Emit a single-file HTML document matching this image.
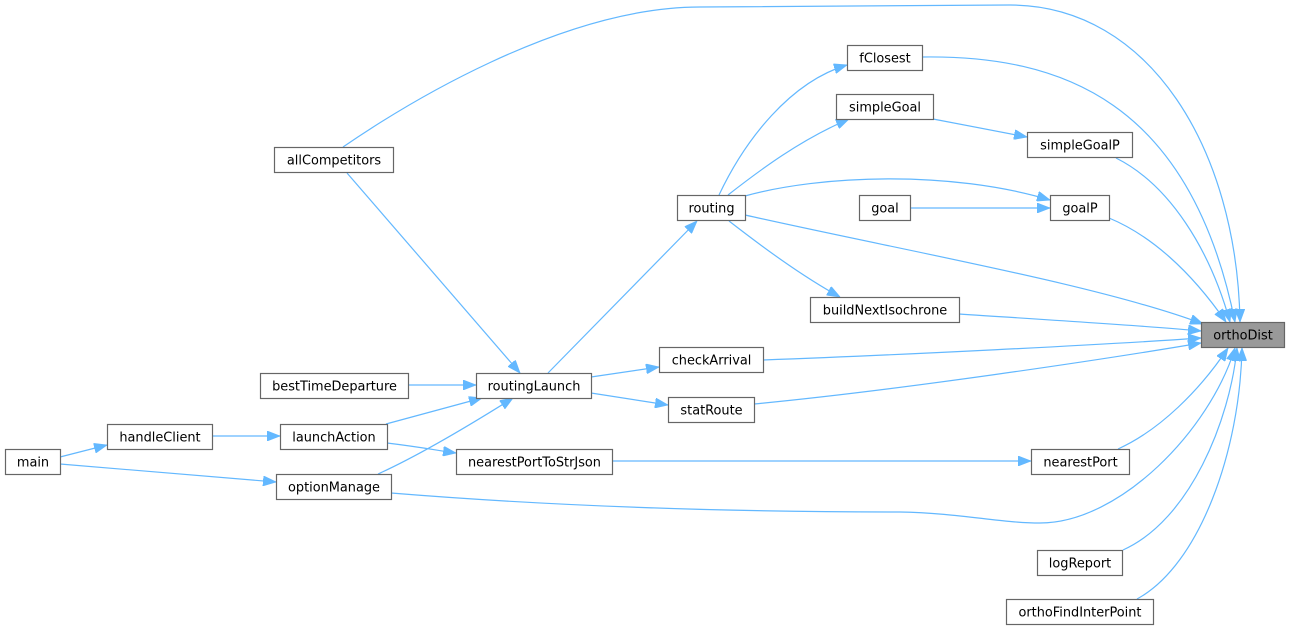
<!DOCTYPE html>
<html><head><meta charset="utf-8"><style>
html,body{margin:0;padding:0;background:#fff;}
svg{display:block;}
text{font-family:"DejaVu Sans","Liberation Sans",sans-serif;font-size:12.9px;fill:#000;text-anchor:middle;}
.n{fill:#fff;stroke:#666;stroke-width:1.2;}
.e{fill:none;stroke:#63b8ff;stroke-width:1.2;}
</style></head><body>
<svg width="1289" height="630" viewBox="0 0 1289 630" xmlns="http://www.w3.org/2000/svg">
<defs>
<marker id="a" viewBox="0 0 13 10" refX="13" refY="5" markerWidth="13" markerHeight="10" markerUnits="userSpaceOnUse" orient="auto">
<path d="M0,0 L13,5 L0,10 z" fill="#63b8ff" stroke="#63b8ff" stroke-width="0.8"/>
</marker>
</defs>
<g marker-end="url(#a)">
<!-- left side -->
<path class="e" d="M60,457 L107,445"/>
<path class="e" d="M60,464 L276,482"/>
<path class="e" d="M212,436 L280,436"/>
<path class="e" d="M386,424 L482,398"/>
<path class="e" d="M387,443 C420,447 435,450 456,453"/>
<path class="e" d="M378,474 C420,455 470,425 513,398"/>
<path class="e" d="M408,385 L476,385"/>
<path class="e" d="M347,173 L520,373"/>
<path class="e" d="M548,373 L697,221"/>
<path class="e" d="M591,377 L659,367"/>
<path class="e" d="M591,393 L668,405"/>
<path class="e" d="M612,461 L1031,461"/>
<!-- routing edges -->
<path class="e" d="M719,195 C745,140 790,82 847,65"/>
<path class="e" d="M728,195 C760,170 800,140 849,119"/>
<path class="e" d="M745,196 C820,175 950,170 1050,200"/>
<path class="e" d="M729,221 C760,245 800,275 840,297"/>
<path class="e" d="M910,208 L1050,208"/>
<path class="e" d="M933,119 L1027,137"/>
<!-- to orthoDist -->
<path class="e" d="M343,147 C400,108 560,7 700,7 C850,7 950,5 1010,5 C1150,5 1237,150 1240,322"/>
<path class="e" d="M922,57 C1060,55 1190,100 1235,322"/>
<path class="e" d="M1116,158 C1170,185 1210,250 1230,322"/>
<path class="e" d="M1109,218 C1150,235 1190,270 1226,322"/>
<path class="e" d="M745,215 C900,250 1100,285 1203,324"/>
<path class="e" d="M959,314 C1050,320 1150,326 1201,331"/>
<path class="e" d="M763,360 C900,355 1100,345 1201,338"/>
<path class="e" d="M754,404 C900,390 1100,360 1201,343"/>
<path class="e" d="M1118,449 C1160,430 1200,390 1228,348"/>
<path class="e" d="M391,493 C600,510 800,512 900,512 C960,513 1000,523 1040,523 C1120,523 1210,430 1235,348"/>
<path class="e" d="M1123,550 C1190,520 1230,420 1237,348"/>
<path class="e" d="M1137,599 C1200,565 1240,450 1242,348"/>
</g>
<!-- nodes -->
<rect class="n" x="5.5" y="449.5" width="55" height="25"/><text x="33" y="466.5">main</text>
<rect class="n" x="107.5" y="424.5" width="105" height="25"/><text x="160" y="441.5">handleClient</text>
<rect class="n" x="280.5" y="424.5" width="107" height="25"/><text x="334" y="441.5">launchAction</text>
<rect class="n" x="276.5" y="474.5" width="115" height="25"/><text x="334" y="491.5">optionManage</text>
<rect class="n" x="260.5" y="373.5" width="148" height="25"/><text x="334.5" y="390.5">bestTimeDeparture</text>
<rect class="n" x="274.5" y="147.5" width="119" height="25"/><text x="334" y="164.5">allCompetitors</text>
<rect class="n" x="476.5" y="373.5" width="115" height="25"/><text x="534" y="390.5">routingLaunch</text>
<rect class="n" x="456.5" y="449.5" width="156" height="25"/><text x="534.5" y="466.5">nearestPortToStrJson</text>
<rect class="n" x="677.5" y="195.5" width="68" height="25"/><text x="711.5" y="212.5">routing</text>
<rect class="n" x="659.5" y="347.5" width="104" height="25"/><text x="711.5" y="364.5">checkArrival</text>
<rect class="n" x="668.5" y="397.5" width="86" height="25"/><text x="711.5" y="414.5">statRoute</text>
<rect class="n" x="847.5" y="45.5" width="75" height="25"/><text x="885" y="62.5">fClosest</text>
<rect class="n" x="836.5" y="94.5" width="97" height="25"/><text x="885" y="111.5">simpleGoal</text>
<rect class="n" x="859.5" y="195.5" width="51" height="25"/><text x="885" y="212.5">goal</text>
<rect class="n" x="810.5" y="297.5" width="149" height="25"/><text x="885" y="314.5">buildNextIsochrone</text>
<rect class="n" x="1027.5" y="132.5" width="105" height="25"/><text x="1080" y="149.5">simpleGoalP</text>
<rect class="n" x="1050.5" y="195.5" width="59" height="25"/><text x="1080" y="212.5">goalP</text>
<rect class="n" x="1031.5" y="449.5" width="98" height="25"/><text x="1080.5" y="466.5">nearestPort</text>
<rect class="n" x="1037.5" y="550.5" width="85" height="25"/><text x="1080" y="567.5">logReport</text>
<rect class="n" x="1006.5" y="599.5" width="147" height="25"/><text x="1080" y="616.5">orthoFindInterPoint</text>
<rect x="1201.5" y="322.5" width="83" height="25" fill="#999" stroke="#666" stroke-width="1.2"/><text x="1243" y="339.5">orthoDist</text>
</svg>
</body></html>
